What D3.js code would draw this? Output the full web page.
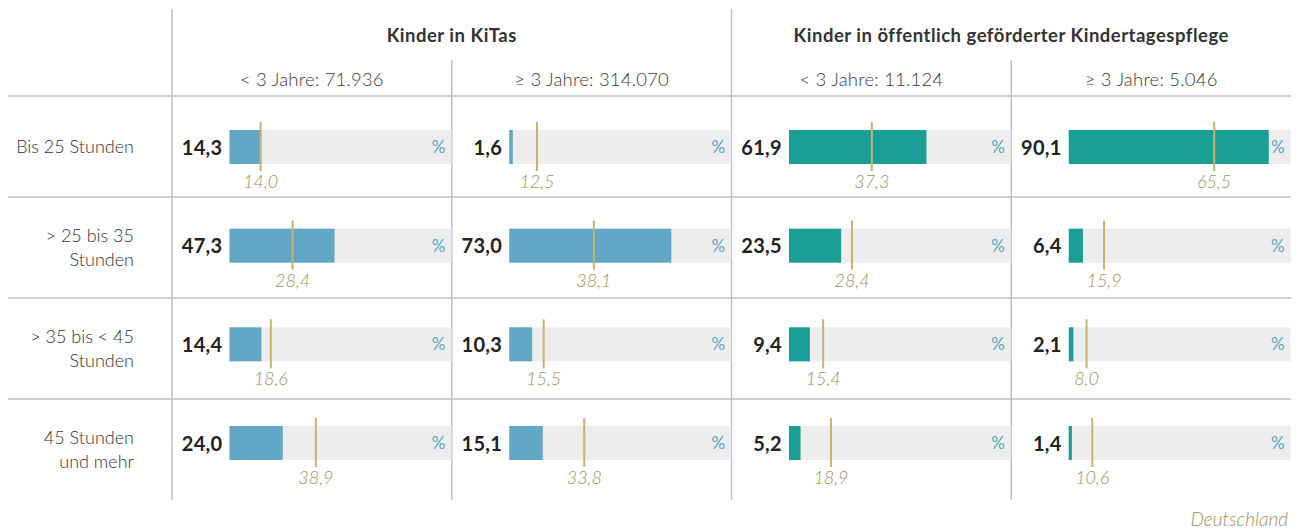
<!DOCTYPE html>
<html>
<head>
<meta charset="utf-8">
<script src="https://cdn.jsdelivr.net/npm/d3@7"></script>
<style>
  body { margin: 0; background: #fff; }
  svg text { font-family: Lato, "Open Sans", sans-serif; }
</style>
</head>
<body>
<svg id="chart" width="1298" height="530"></svg>
<script>
// row labels (line-broken like the original)
const rowLabels = [
  ['Bis 25 Stunden'],
  ['> 25 bis 35', 'Stunden'],
  ['> 35 bis < 45', 'Stunden'],
  ['45 Stunden', 'und mehr']
];
const groupTitles = ['Kinder in KiTas', 'Kinder in öffentlich geförderter Kindertagespflege'];
const subHeaders = ['< 3 Jahre: 71.936', '≥ 3 Jahre: 314.070', '< 3 Jahre: 11.124', '≥ 3 Jahre: 5.046'];
const colGroup = [0, 0, 1, 1];

// shares in % per column (rows top to bottom)
const kitaU3 = [14.3, 47.3, 14.4, 24.0];
const kitaO3 = [1.6, 73.0, 10.3, 15.1];
const pflegeU3 = [61.9, 23.5, 9.4, 5.2];
const pflegeO3 = [90.1, 6.4, 2.1, 1.4];
// comparison values (gold markers)
const refKitaU3 = [14.0, 28.4, 18.6, 38.9];
const refKitaO3 = [12.5, 38.1, 15.5, 33.8];
const refPflegeU3 = [37.3, 28.4, 15.4, 18.9];
const refPflegeO3 = [65.5, 15.9, 8.0, 10.6];

const values = [kitaU3, kitaO3, pflegeU3, pflegeO3];
const refs = [refKitaU3, refKitaO3, refPflegeU3, refPflegeO3];

const groupColor = ['#62a8c6', '#1a9e96'];
const gold = '#c9b26e';
const goldText = '#9f9060';
const grid = '#bcc2c8';

const de = d3.formatLocale({decimal: ',', thousands: '.', grouping: [3], currency: ['', ' €']});
const fmt = de.format('.1f');

const svg = d3.select('#chart');

const colX = d3.scaleBand().domain(d3.range(4)).range([172, 1291]);
const rowY = d3.scaleBand().domain(d3.range(4)).range([96, 500]);
const barY = d3.scaleLinear().domain([0, 3]).range([147, 443]);
const x = d3.scaleLinear().domain([0, 100]).range([57.5, 279.5]);
const barH = 34;

// grid lines
const lines = svg.append('g').attr('stroke', grid).attr('stroke-width', 1.5);
lines.append('line').attr('x1', 172).attr('x2', 172).attr('y1', 9).attr('y2', 500);
lines.append('line').attr('x1', colX(2)).attr('x2', colX(2)).attr('y1', 9).attr('y2', 500);
[1, 3].forEach((c) => {
  lines.append('line').attr('x1', colX(c)).attr('x2', colX(c)).attr('y1', 60).attr('y2', 500);
});
lines.selectAll('line.row')
    .data(d3.range(4))
    .enter().append('line')
    .attr('class', 'row')
    .attr('x1', 8).attr('x2', 1291)
    .attr('y1', (d) => rowY(d)).attr('y2', (d) => rowY(d));

// group titles
svg.selectAll('text.group')
    .data(groupTitles)
    .enter().append('text')
    .attr('class', 'group')
    .attr('x', (d, i) => colX(i * 2) + colX.bandwidth())
    .attr('y', 42)
    .attr('text-anchor', 'middle')
    .attr('font-size', 18.5)
    .attr('font-weight', 700)
    .attr('letter-spacing', 0.5)
    .attr('fill', '#333')
    .text((d) => d);

// sub headers
svg.selectAll('text.sub')
    .data(subHeaders)
    .enter().append('text')
    .attr('class', 'sub')
    .attr('x', (d, i) => colX(i) + colX.bandwidth() / 2)
    .attr('y', 85.5)
    .attr('text-anchor', 'middle')
    .attr('font-size', 18.5)
    .attr('font-weight', 300)
    .attr('letter-spacing', 0.2)
    .attr('fill', '#3a3a3a')
    .text((d) => d);

// row labels
const rl = svg.selectAll('text.rowlabel')
    .data(rowLabels)
    .enter().append('text')
    .attr('class', 'rowlabel')
    .attr('text-anchor', 'end')
    .attr('font-size', 18)
    .attr('font-weight', 300)
    .attr('fill', '#333');
rl.each(function(d, i) {
  const cy = rowY(i) + rowY.bandwidth() / 2;
  const y0 = cy + 6 - (d.length - 1) * 12;
  d3.select(this).selectAll('tspan')
      .data(d)
      .enter().append('tspan')
      .attr('x', 134)
      .attr('y', (t, j) => y0 + j * 24)
      .text((t) => t);
});

// cells
const cols = svg.selectAll('g.col')
    .data(values.map((v, c) => ({c, v, r: refs[c]})))
    .enter().append('g')
    .attr('class', 'col')
    .attr('transform', (d) => `translate(${colX(d.c)},0)`);

cols.each(function(col) {
  const g = d3.select(this);
  const cells = g.selectAll('g.cell')
      .data(col.v.map((v, i) => ({v, ref: col.r[i], i, c: col.c})))
      .enter().append('g')
      .attr('class', 'cell');

  cells.append('rect')
      .attr('x', x(0))
      .attr('width', x(100) - x(0))
      .attr('y', (d) => barY(d.i) - barH / 2)
      .attr('height', barH)
      .attr('fill', '#ededed');

  cells.append('rect')
      .attr('x', x(0))
      .attr('width', (d) => x(d.v) - x(0))
      .attr('y', (d) => barY(d.i) - barH / 2)
      .attr('height', barH)
      .attr('fill', (d) => groupColor[colGroup[d.c]]);

  cells.append('text')
      .attr('x', x(0) - 7)
      .attr('y', (d) => barY(d.i) + 7.5)
      .attr('text-anchor', 'end')
      .attr('font-size', 20)
      .attr('font-weight', 700)
      .attr('letter-spacing', 0.3)
      .attr('fill', '#222')
      .text((d) => fmt(d.v));

  cells.append('text')
      .attr('x', x(100) - 6)
      .attr('y', (d) => barY(d.i) + 6)
      .attr('text-anchor', 'end')
      .attr('font-size', 17)
      .attr('font-weight', 400)
      .attr('fill', '#5fa3c3')
      .text('%');

  cells.append('line')
      .attr('x1', (d) => x(d.ref)).attr('x2', (d) => x(d.ref))
      .attr('y1', (d) => barY(d.i) - 25)
      .attr('y2', (d) => barY(d.i) + 24)
      .attr('stroke', gold)
      .attr('stroke-width', 2);

  cells.append('text')
      .attr('x', (d) => x(d.ref))
      .attr('y', (d) => barY(d.i) + 41)
      .attr('text-anchor', 'middle')
      .attr('font-size', 18)
      .attr('font-style', 'italic')
      .attr('font-weight', 300)
      .attr('fill', goldText)
      .text((d) => fmt(d.ref));
});

svg.append('text')
    .attr('x', 1288)
    .attr('y', 526)
    .attr('text-anchor', 'end')
    .attr('font-size', 19)
    .attr('font-style', 'italic')
    .attr('font-weight', 300)
    .attr('fill', goldText)
    .text('Deutschland');
</script>
</body>
</html>
